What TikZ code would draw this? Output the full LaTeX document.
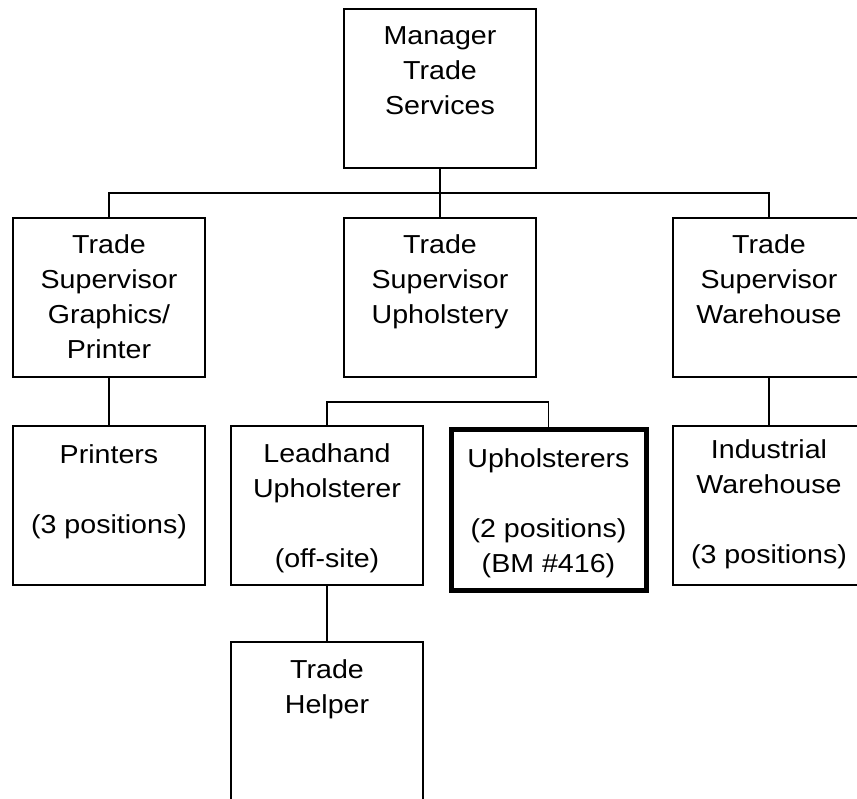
\documentclass[tikz,border=0pt]{standalone}
\usepackage{fontspec}
\setmainfont{Liberation Sans}[FakeStretch=1.1]
\begin{document}
\begin{tikzpicture}[x=1pt,y=-1pt,
  box/.style={draw,line width=1.9pt,minimum width=192pt,minimum height=159pt,inner sep=0pt,outer sep=0pt},
  thickbox/.style={draw,line width=5pt,minimum width=195pt,minimum height=161pt,inner sep=0pt,outer sep=0pt},
  txt/.style={anchor=north,align=center,inner sep=0pt,font=\fontsize{26}{35}\selectfont},
  conn/.style={line width=1.9pt}]
\useasboundingbox (0,0) rectangle (857,799);
\clip (0,0) rectangle (857,799);
\fill[white] (0,0) rectangle (857,799);
% boxes
\node[box] (man) at (440,88.5) {};
\node[box] (g) at (109,297.5) {};
\node[box] (u) at (440,297.5) {};
\node[box] (w) at (769,297.5) {};
\node[box] (p) at (109,505.5) {};
\node[box] (lh) at (327,505.5) {};
\node[thickbox] (up) at (548.5,510) {};
\node[box] (iw) at (769,505.5) {};
\node[box] (th) at (327,721.5) {};
% texts (first baseline about 36pt below box top)
\node[txt] (tman) at ([yshift=-17pt]man.north) {Manager\\Trade\\Services};
\node[txt] (tg) at ([yshift=-16pt]g.north) {Trade\\Supervisor\\Graphics/\\Printer};
\node[txt] (tu) at ([yshift=-16pt]u.north) {Trade\\Supervisor\\Upholstery};
\node[txt] (tw) at ([yshift=-16pt]w.north) {Trade\\Supervisor\\Warehouse};
\node[txt] (tp) at ([yshift=-18pt]p.north) {Printers\\\mbox{}\\(3 positions)};
\node[txt] (tlh) at ([yshift=-17pt]lh.north) {Leadhand\\Upholsterer\\\mbox{}\\(off-site)};
\node[txt] (tup) at ([yshift=-19pt]up.north) {Upholsterers\\\mbox{}\\(2 positions)\\(BM \#416)};
\node[txt] (tiw) at ([yshift=-13pt]iw.north) {Industrial\\Warehouse\\\mbox{}\\(3 positions)};
\node[txt] (tth) at ([yshift=-17pt]th.north) {Trade\\Helper};
% connectors
\draw[conn] (man.south) -- (u.north);
\draw[conn] (g.north) -- ++(0,-25) -| (w.north);
\draw[conn] (g.south) -- (p.north);
\draw[conn] (w.south) -- (iw.north);
\draw[conn] (lh.north) -- ++(0,-24) -| (up.north);
\draw[conn] (lh.south) -- (th.north);
\end{tikzpicture}
\end{document}
